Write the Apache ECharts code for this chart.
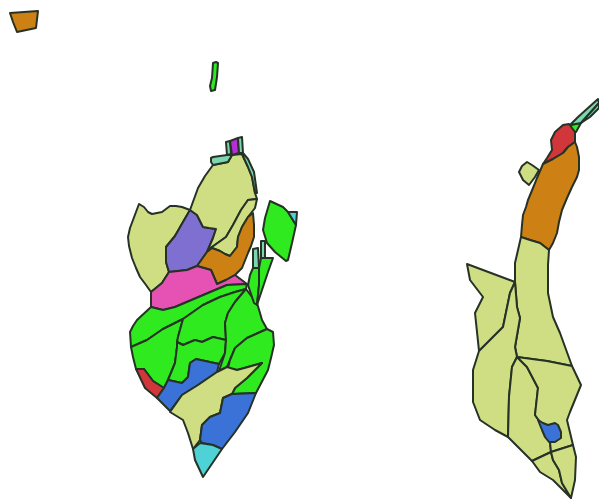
<!DOCTYPE html>
<html><head><meta charset="utf-8">
<style>html,body{margin:0;padding:0;background:#fff}#c{width:599px;height:499px}</style>
<script src="https://cdn.jsdelivr.net/npm/echarts@6/dist/echarts.min.js"></script>
</head><body><div id="c"></div>
<script>
// Boundaries, in map units.
const westKhaki=[[139,204],[144,207],[148,212],[152,214],[162,212],[170,206],[176,206],[182,207],[190,210],[183,222],[175,236],[166,247],[166,262],[169,272],[162,283],[151,292],[146,285],[140,277],[136,268],[132,258],[129,246],[128,237],[130,228],[133,220]];
const purple=[[190,210],[197,215],[200,221],[203,227],[209,228],[216,229],[213,238],[210,245],[207,252],[197,266],[187,270],[178,271],[169,272],[166,262],[166,247],[175,236],[183,222]];
const northKhaki=[[213,165],[228,162],[232,155],[242,154],[248,167],[252,177],[255,193],[257,199],[248,200],[241,210],[233,225],[226,237],[212,247],[207,252],[210,245],[213,238],[216,229],[209,228],[203,227],[200,221],[197,215],[190,210],[198,188],[205,176]];
const stripKhaki=[[257,199],[255,208],[248,217],[242,227],[238,237],[237,247],[230,256],[225,254],[220,251],[212,248],[207,252],[212,247],[226,237],[233,225],[241,210],[248,200]];
const midOrange=[[248,217],[253,213],[254,225],[254,237],[251,246],[248,253],[242,268],[235,275],[226,280],[217,284],[214,277],[211,270],[197,266],[207,252],[212,248],[220,251],[225,254],[230,256],[237,247],[238,237],[242,227]];
const pink=[[169,272],[178,271],[187,270],[197,266],[211,270],[214,277],[217,284],[226,280],[235,275],[247,284],[227,285],[208,293],[175,307],[163,310],[151,307],[151,292],[162,283]];
const green1=[[151,307],[163,310],[175,307],[208,293],[227,285],[247,284],[246,289],[235,292],[220,297],[203,305],[183,319],[163,329],[147,340],[131,347],[130,332],[133,326],[137,320]];
const green2=[[131,347],[147,340],[163,329],[183,319],[178,337],[177,347],[175,363],[168,380],[164,388],[153,381],[144,369],[136,369],[133,357]];
const red1=[[136,369],[144,369],[153,381],[164,388],[157,398],[145,388]];
const green3=[[183,319],[203,305],[220,297],[235,292],[246,289],[235,302],[228,313],[225,323],[226,340],[213,337],[202,342],[195,340],[183,345],[177,342],[178,337]];
const green4=[[177,342],[183,345],[195,340],[202,342],[213,337],[226,340],[225,353],[219,364],[196,359],[190,363],[188,377],[182,383],[168,380],[175,363],[177,347]];
const blue1=[[168,380],[182,383],[188,377],[190,363],[196,359],[219,364],[217,372],[198,385],[182,395],[170,411],[157,398],[164,388]];
const green5=[[246,289],[252,297],[257,303],[260,313],[262,320],[267,329],[247,338],[235,348],[230,360],[227,367],[219,371],[225,353],[226,340],[225,323],[228,313],[235,302]];
const green6=[[267,329],[273,332],[274,345],[271,358],[268,370],[256,393],[232,394],[235,388],[247,378],[262,363],[248,367],[237,370],[228,368],[230,360],[235,348],[247,338]];
const southKhaki=[[227,367],[237,370],[248,367],[262,363],[247,378],[235,388],[232,394],[223,398],[220,413],[210,417],[202,425],[200,440],[193,449],[188,433],[183,420],[170,412],[182,395],[198,385],[217,372]];
const blue2=[[232,394],[256,393],[248,413],[235,432],[222,449],[213,445],[202,443],[200,440],[202,425],[210,417],[220,413],[223,398]];
const cyan1=[[193,449],[200,443],[213,445],[222,449],[203,477],[195,460]];
const teal1=[[226,142],[230,141],[231,154],[227,155]];
const magenta=[[230,141],[238,138],[239,153],[232,155]];
const teal2=[[238,138],[242,137],[243,153],[239,153]];
const teal3=[[243,153],[248,159],[254,172],[257,193],[255,193],[252,177],[248,167],[242,154]];
const teal4=[[211,158],[213,157],[227,155],[232,155],[228,162],[213,165],[211,162]];
const eastGreen=[[270,201],[283,207],[288,212],[296,225],[292,243],[288,260],[286,261],[275,252],[267,243],[263,230],[265,218]];
const cyan2=[[288,212],[297,212],[296,225]];
const teal5=[[253,249],[258,248],[259,268],[253,268]];
const green7=[[253,268],[259,268],[259,285],[257,305],[254,303],[248,285],[250,275]];
const green8=[[259,268],[261,258],[265,258],[273,258],[268,272],[257,305],[259,285]];
const teal6=[[261,241],[265,241],[265,258],[261,258]];
const isleOrange=[[10,13],[38,11],[36,28],[17,32],[13,22]];
const isleGreen=[[213,63],[216,62],[218,63],[217,77],[215,90],[211,91],[210,86],[212,78]];
const tipGreen=[[570,125],[581,123],[576,132],[573,133]];
const tipTeal1=[[570,125],[578,117],[588,108],[598,99],[599,103],[590,113],[581,123]];
const tipTeal2=[[581,123],[590,113],[599,103],[599,108],[590,117]];
const red2=[[569,124],[575,132],[575,142],[568,147],[563,153],[553,159],[543,164],[547,158],[552,150],[551,140],[555,132],[563,125]];
const bigOrange=[[575,142],[577,147],[579,157],[579,170],[577,177],[572,187],[567,198],[562,210],[559,222],[557,233],[553,243],[549,250],[540,243],[530,240],[521,237],[522,225],[523,215],[526,207],[528,200],[533,188],[537,178],[540,171],[543,164],[553,159],[563,153],[568,147]];
const isleKhaki=[[527,162],[532,165],[539,170],[535,177],[529,185],[523,180],[519,172],[522,166]];
const upperKhaki=[[521,237],[530,240],[540,243],[549,250],[548,265],[548,293],[553,317],[560,333],[572,366],[547,361],[517,357],[515,347],[520,318],[517,307],[515,282],[515,263]];
const armKhaki=[[467,264],[515,282],[510,293],[503,327],[479,351],[475,313],[483,297],[470,280]];
const westKhaki2=[[515,282],[517,307],[520,318],[515,347],[517,357],[512,367],[509,397],[508,437],[495,430],[480,420],[473,402],[473,370],[479,351],[503,327],[510,293]];
const midKhaki=[[517,357],[527,367],[538,388],[535,415],[540,422],[550,442],[551,452],[532,461],[523,452],[508,437],[509,397],[512,367]];
const eastKhaki=[[517,357],[547,361],[572,366],[581,385],[570,412],[567,420],[573,445],[551,452],[550,442],[540,422],[535,415],[538,388],[527,367]];
const lake=[[538,420],[543,423],[548,425],[555,423],[558,425],[561,432],[561,438],[555,442],[549,442],[545,437],[542,430]];
const footKhaki1=[[532,461],[551,452],[553,460],[559,470],[562,483],[571,498],[553,480],[540,472]];
const footKhaki2=[[551,452],[573,445],[576,457],[575,480],[571,498],[562,483],[559,470],[553,460]];

const palette={khaki:'#cfdd83',purple:'#7f6fd0',orange:'#cd8114',pink:'#e652b4',green:'#2eea1e',red:'#d1363b',blue:'#3a72d8',cyan:'#4fd2d6',teal:'#7dd6b0',magenta:'#b52ed8'};
const regions=[
['West Khaki',westKhaki,'khaki'],['Purple',purple,'purple'],['North Khaki',northKhaki,'khaki'],['Strip Khaki',stripKhaki,'khaki'],['Mid Orange',midOrange,'orange'],['Pink',pink,'pink'],
['Green 1',green1,'green'],['Green 2',green2,'green'],['Red 1',red1,'red'],['Green 3',green3,'green'],['Green 4',green4,'green'],['Blue 1',blue1,'blue'],['Green 5',green5,'green'],['Green 6',green6,'green'],
['South Khaki',southKhaki,'khaki'],['Blue 2',blue2,'blue'],['Cyan 1',cyan1,'cyan'],['Teal 1',teal1,'teal'],['Magenta',magenta,'magenta'],['Teal 2',teal2,'teal'],['Teal 3',teal3,'teal'],['Teal 4',teal4,'teal'],
['East Green',eastGreen,'green'],['Cyan 2',cyan2,'cyan'],['Teal 5',teal5,'teal'],['Green 7',green7,'green'],['Green 8',green8,'green'],['Teal 6',teal6,'teal'],
['Isle Orange',isleOrange,'orange'],['Isle Green',isleGreen,'green'],['Tip Green',tipGreen,'green'],['Tip Teal 1',tipTeal1,'teal'],['Tip Teal 2',tipTeal2,'teal'],['Red 2',red2,'red'],['Big Orange',bigOrange,'orange'],['Isle Khaki',isleKhaki,'khaki'],
['Upper Khaki',upperKhaki,'khaki'],['Arm Khaki',armKhaki,'khaki'],['West Khaki 2',westKhaki2,'khaki'],['Mid Khaki',midKhaki,'khaki'],['East Khaki',eastKhaki,'khaki'],['Lake',lake,'blue'],['Foot Khaki 1',footKhaki1,'khaki'],['Foot Khaki 2',footKhaki2,'khaki']
];
const geo={type:'FeatureCollection',features:regions.map(([name,ring])=>({type:'Feature',properties:{name},geometry:{type:'Polygon',coordinates:[ring.concat([ring[0]])]}}))};
echarts.registerMap('parcels',geo);
const chart=echarts.init(document.getElementById('c'),null,{renderer:'canvas'});
chart.setOption({
  animation:false,backgroundColor:'#fff',
  series:[{type:'map',map:'parcels',roam:false,silent:true,
    projection:{project:p=>p,unproject:p=>p},
    left:10,top:11,width:589,height:487,
    label:{show:false},emphasis:{disabled:true},select:{disabled:true},
    itemStyle:{borderColor:'#263226',borderWidth:2,borderJoin:'round'},
    data:regions.map(([name,,kind])=>({name,itemStyle:{areaColor:palette[kind]}}))
  }]
});
</script></body></html>
